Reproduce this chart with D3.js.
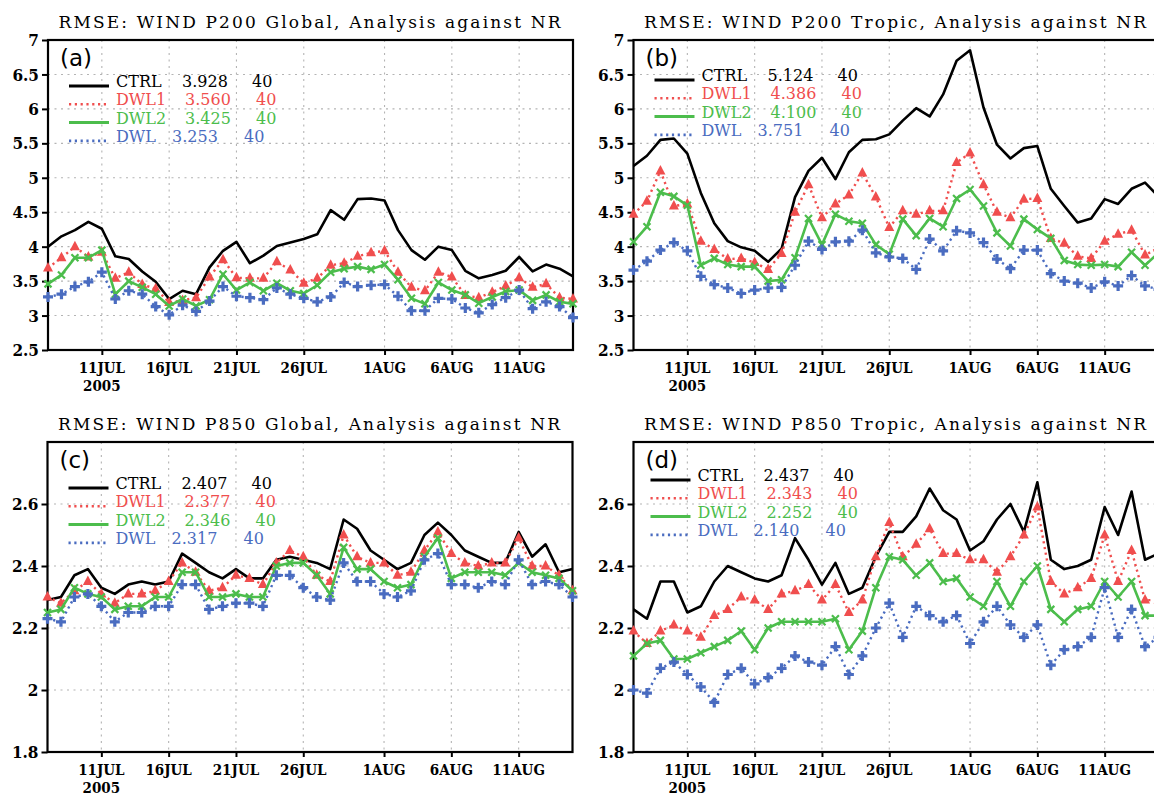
<!DOCTYPE html>
<html>
<head>
<meta charset="utf-8">
<script src="https://cdn.jsdelivr.net/npm/d3@7"></script>
<style>
  html, body { margin: 0; padding: 0; background: #fff; }
  svg { display: block; }
  .title { font-family: "DejaVu Serif", serif; font-size: 17px; fill: #000; }
  .tag { font-family: "DejaVu Sans", sans-serif; font-size: 23px; fill: #000; }
  .ticklab { font-family: "DejaVu Serif", serif; font-weight: bold; font-stretch: condensed; font-size: 17px; fill: #000; }
  .datelab { font-size: 15px; }
  .leg { font-family: "DejaVu Serif", serif; font-size: 16px; }
</style>
</head>
<body>
<svg id="chart" width="1154" height="797"></svg>
<script>
// ---- daily analysis times, 7 JUL – 15 AUG 2005 ----
const days = d3.utcDay.range(new Date(Date.UTC(2005, 6, 7)), new Date(Date.UTC(2005, 7, 16)));
const tickDates = [
  new Date(Date.UTC(2005, 6, 11)), new Date(Date.UTC(2005, 6, 16)), new Date(Date.UTC(2005, 6, 21)),
  new Date(Date.UTC(2005, 6, 26)), new Date(Date.UTC(2005, 7, 1)), new Date(Date.UTC(2005, 7, 6)),
  new Date(Date.UTC(2005, 7, 11))
];
const tickLabels = ["11JUL", "16JUL", "21JUL", "26JUL", "1AUG", "6AUG", "11AUG"];
const yearLabel = "2005";

const seriesNames = ["CTRL", "DWL1", "DWL2", "DWL"];

// ---- P200 Global ----
const ctrlA = [4.00,4.15,4.24,4.36,4.26,3.86,3.82,3.64,3.49,3.24,3.36,3.31,3.70,3.94,4.07,3.76,3.87,4.01,4.06,4.11,4.18,4.53,4.39,4.69,4.70,4.67,4.24,3.95,3.81,4.00,3.95,3.65,3.54,3.59,3.65,3.85,3.64,3.74,3.68,3.57];
const dwl1A = [3.69,3.84,4.00,3.85,3.92,3.54,3.63,3.45,3.39,3.19,3.22,3.26,3.56,3.81,3.55,3.54,3.54,3.78,3.66,3.47,3.54,3.73,3.76,3.86,3.91,3.94,3.63,3.41,3.36,3.63,3.56,3.29,3.26,3.34,3.43,3.55,3.41,3.46,3.26,3.24];
const dwl2A = [3.46,3.59,3.84,3.84,3.95,3.31,3.50,3.41,3.31,3.14,3.24,3.14,3.23,3.60,3.37,3.48,3.36,3.47,3.36,3.32,3.44,3.63,3.68,3.71,3.67,3.74,3.52,3.25,3.17,3.48,3.37,3.30,3.18,3.27,3.35,3.37,3.22,3.30,3.20,3.17];
const dwlA  = [3.27,3.31,3.42,3.49,3.63,3.24,3.36,3.31,3.13,3.01,3.15,3.06,3.21,3.42,3.28,3.26,3.23,3.40,3.31,3.25,3.20,3.27,3.48,3.42,3.44,3.45,3.28,3.07,3.07,3.25,3.24,3.11,3.04,3.16,3.26,3.37,3.10,3.20,3.13,2.97];
const meanA = [3.928, 3.560, 3.425, 3.253];

// ---- P200 Tropic ----
const ctrlB = [5.17,5.32,5.55,5.57,5.35,4.78,4.34,4.08,3.99,3.94,3.78,3.97,4.72,5.10,5.29,4.98,5.37,5.55,5.56,5.63,5.83,6.01,5.89,6.21,6.70,6.85,6.02,5.48,5.28,5.43,5.46,4.84,4.59,4.35,4.41,4.69,4.62,4.84,4.93,4.73];
const dwl1B = [4.47,4.66,5.10,4.59,4.62,4.08,3.96,3.82,3.83,3.77,3.67,3.90,4.50,4.90,4.42,4.62,4.75,5.07,4.72,4.28,4.52,4.47,4.52,4.52,5.22,5.36,4.90,4.50,4.42,4.69,4.70,4.12,4.05,3.86,3.83,4.08,4.18,4.24,3.88,3.98];
const dwl2B = [4.07,4.29,4.79,4.73,4.60,3.73,3.83,3.74,3.71,3.71,3.50,3.52,3.84,4.41,4.03,4.47,4.37,4.34,4.03,3.89,4.40,4.16,4.41,4.29,4.70,4.83,4.59,4.20,4.01,4.40,4.25,4.12,3.80,3.74,3.73,3.74,3.71,3.92,3.73,3.91];
const dwlB  = [3.66,3.79,3.95,4.06,3.94,3.57,3.45,3.40,3.32,3.37,3.40,3.41,3.73,4.08,3.96,4.07,4.08,4.24,3.91,3.85,3.83,3.67,4.11,3.94,4.23,4.20,4.06,3.82,3.68,3.95,3.95,3.61,3.50,3.47,3.40,3.49,3.43,3.58,3.43,3.38];
const meanB = [5.124, 4.386, 4.100, 3.751];

// ---- P850 Global ----
const ctrlC = [2.29,2.30,2.37,2.39,2.33,2.31,2.34,2.35,2.34,2.35,2.44,2.41,2.38,2.36,2.39,2.36,2.36,2.42,2.43,2.42,2.41,2.39,2.55,2.52,2.45,2.42,2.39,2.41,2.50,2.54,2.50,2.45,2.43,2.41,2.41,2.51,2.43,2.47,2.38,2.39];
const dwl1C = [2.30,2.28,2.32,2.35,2.31,2.28,2.31,2.31,2.32,2.35,2.41,2.38,2.32,2.33,2.37,2.36,2.34,2.41,2.45,2.43,2.37,2.35,2.50,2.43,2.41,2.41,2.37,2.38,2.45,2.51,2.44,2.41,2.40,2.41,2.41,2.49,2.40,2.40,2.37,2.32];
const dwl2C = [2.25,2.26,2.33,2.31,2.30,2.26,2.27,2.27,2.30,2.30,2.38,2.38,2.30,2.30,2.31,2.30,2.30,2.40,2.41,2.41,2.37,2.31,2.46,2.39,2.39,2.35,2.33,2.34,2.43,2.49,2.36,2.38,2.38,2.38,2.37,2.41,2.38,2.37,2.36,2.32];
const dwlC  = [2.23,2.22,2.30,2.31,2.27,2.22,2.25,2.25,2.27,2.27,2.34,2.34,2.26,2.27,2.28,2.28,2.27,2.37,2.37,2.33,2.30,2.29,2.41,2.35,2.35,2.31,2.30,2.32,2.42,2.44,2.34,2.34,2.33,2.35,2.34,2.42,2.34,2.35,2.34,2.30];
const meanC = [2.407, 2.377, 2.346, 2.317];

// ---- P850 Tropic ----
const ctrlD = [2.26,2.23,2.35,2.35,2.25,2.27,2.35,2.40,2.38,2.36,2.35,2.37,2.49,2.42,2.34,2.41,2.31,2.33,2.43,2.51,2.51,2.56,2.65,2.58,2.55,2.45,2.48,2.55,2.60,2.51,2.67,2.42,2.39,2.40,2.42,2.59,2.50,2.64,2.42,2.44];
const dwl1D = [2.19,2.15,2.19,2.21,2.19,2.17,2.24,2.26,2.30,2.29,2.26,2.31,2.32,2.34,2.29,2.34,2.25,2.29,2.43,2.54,2.43,2.47,2.52,2.44,2.44,2.42,2.42,2.38,2.43,2.50,2.59,2.35,2.31,2.33,2.36,2.50,2.35,2.45,2.29,2.29];
const dwl2D = [2.11,2.15,2.16,2.10,2.10,2.12,2.14,2.16,2.19,2.13,2.20,2.22,2.22,2.22,2.22,2.23,2.13,2.19,2.33,2.43,2.42,2.37,2.41,2.35,2.36,2.30,2.27,2.35,2.27,2.35,2.40,2.26,2.22,2.26,2.27,2.35,2.30,2.35,2.24,2.24];
const dwlD  = [2.00,1.99,2.07,2.09,2.05,2.01,1.96,2.05,2.07,2.02,2.04,2.07,2.11,2.09,2.08,2.14,2.05,2.11,2.20,2.28,2.17,2.27,2.24,2.22,2.24,2.15,2.22,2.27,2.21,2.17,2.21,2.08,2.13,2.14,2.17,2.33,2.17,2.26,2.14,2.17];
const meanD = [2.437, 2.343, 2.252, 2.140];

const nCount = 40;

const p200Ticks = [2.5, 3, 3.5, 4, 4.5, 5, 5.5, 6, 6.5, 7];
const p850Ticks = [1.8, 2, 2.2, 2.4, 2.6];

// ---- panel definitions ----
const panels = [
  { title: "RMSE: WIND P200 Global, Analysis against NR", tag: "(a)", series: [ctrlA, dwl1A, dwl2A, dwlA], means: meanA,
    domain: [2.5, 7], ticks: p200Ticks, left: 48, top: 40, legDy: 46, legDx: 0 },
  { title: "RMSE: WIND P200 Tropic, Analysis against NR", tag: "(b)", series: [ctrlB, dwl1B, dwl2B, dwlB], means: meanB,
    domain: [2.5, 7], ticks: p200Ticks, left: 633.5, top: 40, legDy: 40, legDx: 0 },
  { title: "RMSE: WIND P850 Global, Analysis against NR", tag: "(c)", series: [ctrlC, dwl1C, dwl2C, dwlC], means: meanC,
    domain: [1.8, 2.8], ticks: p850Ticks, left: 47.5, top: 442, legDy: 46, legDx: 0 },
  { title: "RMSE: WIND P850 Tropic, Analysis against NR", tag: "(d)", series: [ctrlD, dwl1D, dwl2D, dwlD], means: meanD,
    domain: [1.8, 2.8], ticks: p850Ticks, left: 633.5, top: 442, legDy: 38, legDx: -4 }
];

const W = 525, H = 310;
const colors = ["#000000", "#f04e4e", "#4cbd4c", "#4a6cc0"];
const dashes = [null, "2.2,3.6", null, "2.2,3.6"];
const widths = [2.6, 2.4, 2.6, 2.4];

const svg = d3.select("#chart");

// marker glyphs: none for CTRL, triangle, cross, plus
function drawMarker(g, k, x, y) {
  const c = colors[k];
  if (k === 1) {
    g.append("path").attr("d", `M${x},${y - 6}L${x + 5},${y + 3.5}L${x - 5},${y + 3.5}Z`).attr("fill", c);
  } else if (k === 2) {
    g.append("path").attr("d", `M${x - 3.5},${y - 3.5}L${x + 3.5},${y + 3.5}M${x - 3.5},${y + 3.5}L${x + 3.5},${y - 3.5}`)
      .attr("stroke", c).attr("stroke-width", 2.2).attr("fill", "none");
  } else if (k === 3) {
    g.append("path").attr("d", `M${x - 5},${y}L${x + 5},${y}M${x},${y - 5}L${x},${y + 5}`)
      .attr("stroke", c).attr("stroke-width", 3.2).attr("fill", "none");
  }
}

panels.forEach(p => {
  const g = svg.append("g");
  const x = d3.scaleUtc().domain([days[0], days[days.length - 1]]).range([p.left, p.left + W]);
  const y = d3.scaleLinear().domain(p.domain).range([p.top + H, p.top]);
  const bottom = p.top + H;

  // title
  g.append("text").attr("class", "title")
    .attr("x", p.left + 10.5).attr("y", p.top - 12)
    .attr("textLength", 502).attr("lengthAdjust", "spacing")
    .text(p.title);

  // dotted grid
  const gridY = p.ticks.filter(t => t > p.domain[0] && t < p.domain[1]);
  g.selectAll(null).data(gridY).enter().append("line")
    .attr("x1", p.left).attr("x2", p.left + W)
    .attr("y1", d => y(d)).attr("y2", d => y(d))
    .attr("stroke", "#b4b4b4").attr("stroke-width", 1.1).attr("stroke-dasharray", "2,4.5");
  g.selectAll(null).data(tickDates).enter().append("line")
    .attr("x1", d => x(d)).attr("x2", d => x(d))
    .attr("y1", p.top).attr("y2", bottom)
    .attr("stroke", "#b4b4b4").attr("stroke-width", 1.1).attr("stroke-dasharray", "2,4.5");

  // axes
  const ax = g.append("g").attr("transform", `translate(0,${bottom})`)
    .call(d3.axisBottom(x).tickValues(tickDates).tickSize(5).tickSizeOuter(0).tickFormat(""));
  ax.select(".domain").remove();
  ax.selectAll(".tick line").attr("stroke", "#000").attr("stroke-width", 2);

  const ay = g.append("g").attr("transform", `translate(${p.left},0)`)
    .call(d3.axisLeft(y).tickValues(p.ticks).tickSize(6).tickSizeOuter(0).tickFormat(""));
  ay.select(".domain").remove();
  ay.selectAll(".tick line").attr("stroke", "#000").attr("stroke-width", 2);

  g.selectAll(null).data(p.ticks).enter().append("text").attr("class", "ticklab")
    .attr("x", p.left - 9).attr("y", d => y(d)).attr("dy", "0.36em").attr("text-anchor", "end")
    .text(d => String(+d.toFixed(1)));

  g.selectAll(null).data(tickDates).enter().append("text").attr("class", "ticklab datelab")
    .attr("x", d => x(d)).attr("y", bottom + 23).attr("text-anchor", "middle")
    .text((d, i) => tickLabels[i]);
  g.append("text").attr("class", "ticklab datelab")
    .attr("x", x(tickDates[0])).attr("y", bottom + 41).attr("text-anchor", "middle").text(yearLabel);

  // frame
  g.append("rect").attr("x", p.left).attr("y", p.top).attr("width", W).attr("height", H)
    .attr("fill", "none").attr("stroke", "#000").attr("stroke-width", 2.2);

  // series
  p.series.forEach((vals, k) => {
    const line = d3.line().x((d, i) => x(days[i])).y(d => y(d));
    g.append("path").datum(vals).attr("d", line)
      .attr("fill", "none").attr("stroke", colors[k]).attr("stroke-width", widths[k])
      .attr("stroke-linejoin", "round")
      .attr("stroke-dasharray", dashes[k]);
    const mg = g.append("g");
    vals.forEach((v, i) => drawMarker(mg, k, x(days[i]), y(v)));
  });

  // panel tag
  g.append("text").attr("class", "tag").attr("x", p.left + 12).attr("y", p.top + 26).text(p.tag);

  // legend
  const lx = p.left + 21 + p.legDx;
  const numDx = [66, 69, 69, 56];
  const cntDx = [136, 140, 140, 128];
  seriesNames.forEach((name, k) => {
    const ly = p.top + p.legDy + k * 18.3;
    g.append("line").attr("x1", lx).attr("x2", lx + 40).attr("y1", ly).attr("y2", ly)
      .attr("stroke", colors[k]).attr("stroke-width", k % 2 === 0 ? 3 : 2.6)
      .attr("stroke-dasharray", dashes[k]);
    const tx = lx + 47;
    g.append("text").attr("class", "leg").attr("fill", colors[k]).attr("x", tx).attr("y", ly + 1).text(name);
    g.append("text").attr("class", "leg").attr("fill", colors[k]).attr("x", tx + numDx[k]).attr("y", ly + 1).text(p.means[k].toFixed(3));
    g.append("text").attr("class", "leg").attr("fill", colors[k]).attr("x", tx + cntDx[k]).attr("y", ly + 1).text(nCount);
  });
});
</script>
</body>
</html>
